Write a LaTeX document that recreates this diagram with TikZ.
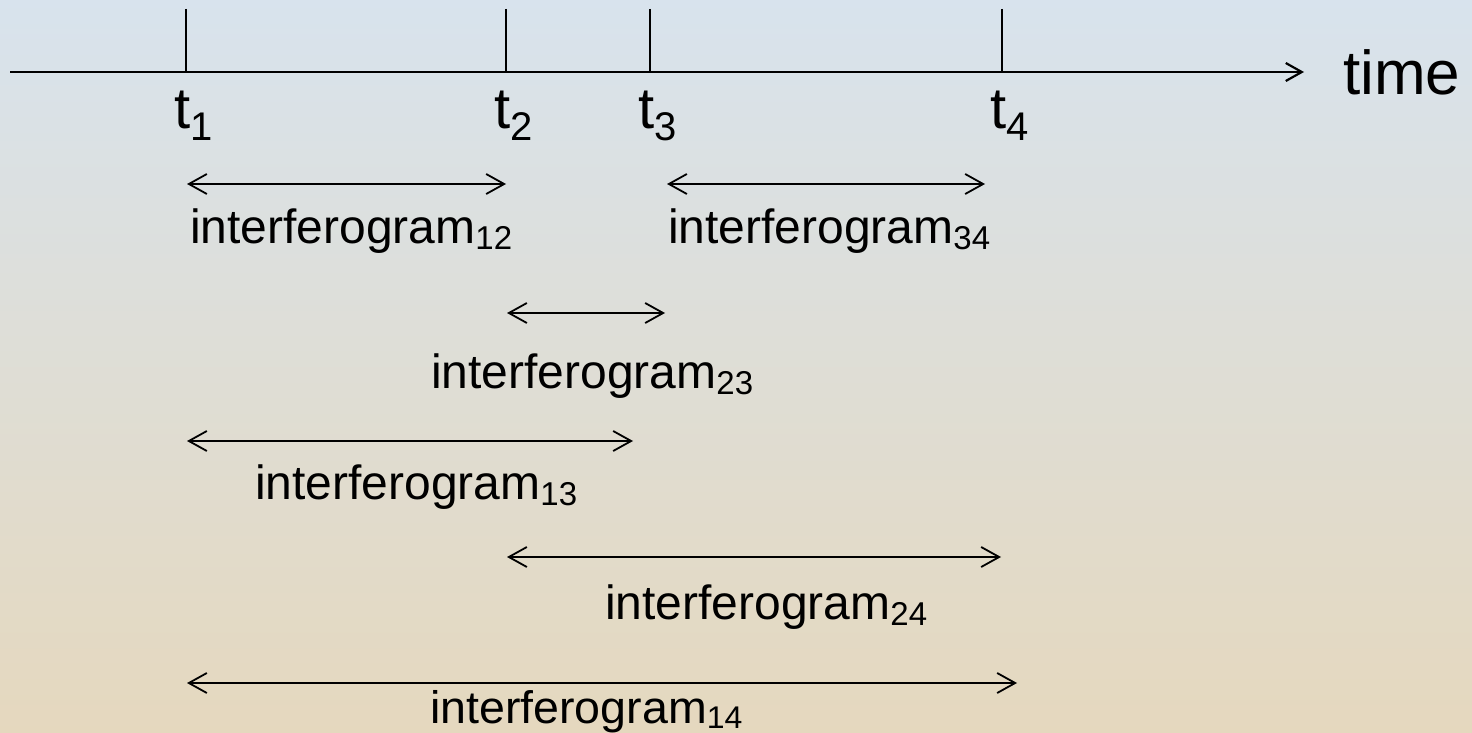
\documentclass[tikz,border=0pt]{standalone}
\usepackage{fontspec}
\setmainfont{Liberation Sans}
\usetikzlibrary{arrows.meta}
\definecolor{bgtop}{RGB}{216,227,237}
\definecolor{bgbot}{RGB}{229,216,190}
\newcommand{\ifgram}[1]{{\fontsize{24}{28}\selectfont interferogram}\raisebox{-3pt}{\fontsize{16.5}{18}\selectfont #1}}
\newcommand{\tlab}[1]{{\fontsize{29}{32}\selectfont t}\raisebox{-6pt}{\fontsize{20}{22}\selectfont #1}}
\tikzset{
  axisline/.style={line width=1.1pt, -{Straight Barb[length=8pt,width=9pt]}},
  tickline/.style={line width=0.7pt},
  spanarrow/.style={line width=0.9pt, {Straight Barb[length=9pt,width=10pt]}-{Straight Barb[length=9pt,width=10pt]}},
  lbl/.style={anchor=base west, inner sep=0pt, outer sep=0pt},
}
\begin{document}
\begin{tikzpicture}[x=0.5pt,y=-0.5pt]
\useasboundingbox (0,0) rectangle (1472,733);
\shade[top color=bgtop, bottom color=bgbot] (0,0) rectangle (1472,733);
% axis
\coordinate (a0) at (10,72);
\coordinate (a1) at (1304,72);
\draw[axisline] (a0) -- (a1);
\node[lbl] (time) at (1343,95) {\fontsize{31}{34}\selectfont time};
% ticks
\foreach \n/\x in {1/186,2/506,3/650,4/1002}{
  \coordinate (tt\n) at (\x,9);
  \coordinate (tb\n) at (\x,72);
  \draw[tickline] (tt\n) -- (tb\n);
  \node[lbl] (tl\n) at (\x-12,128) {\tlab{\n}};
}
% row 1
\coordinate (r12a) at (187,184); \coordinate (r12b) at (506,184);
\draw[spanarrow] (r12a) -- (r12b);
\node[lbl] (l12) at (190,243) {\ifgram{12}};
\coordinate (r34a) at (667,184); \coordinate (r34b) at (985,184);
\draw[spanarrow] (r34a) -- (r34b);
\node[lbl] (l34) at (668,243) {\ifgram{34}};
% row 2
\coordinate (r23a) at (507,313); \coordinate (r23b) at (665,313);
\draw[spanarrow] (r23a) -- (r23b);
\node[lbl] (l23) at (431,388) {\ifgram{23}};
% row 3
\coordinate (r13a) at (187,441); \coordinate (r13b) at (633,441);
\draw[spanarrow] (r13a) -- (r13b);
\node[lbl] (l13) at (255,499) {\ifgram{13}};
% row 4
\coordinate (r24a) at (507,557); \coordinate (r24b) at (1001,557);
\draw[spanarrow] (r24a) -- (r24b);
\node[lbl] (l24) at (605,619) {\ifgram{24}};
% row 5
\coordinate (r14a) at (187,683); \coordinate (r14b) at (1017,683);
\draw[spanarrow] (r14a) -- (r14b);
\node[lbl, xscale=0.97, yscale=0.95] (l14) at (430,723) {\ifgram{14}};
\end{tikzpicture}
\end{document}
